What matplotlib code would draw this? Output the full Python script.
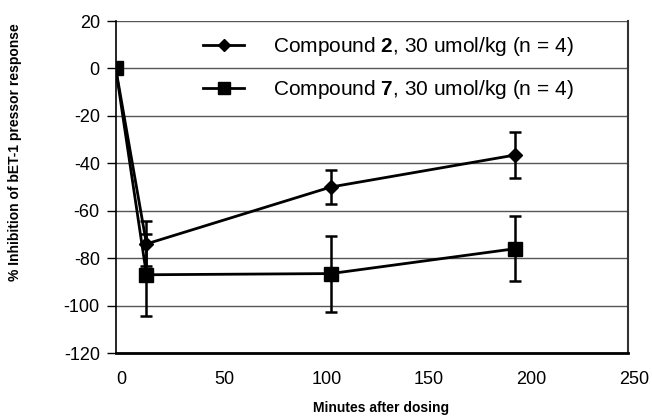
import matplotlib
matplotlib.use('Agg')
import matplotlib.pyplot as plt
import matplotlib.transforms as mtransforms
from matplotlib.lines import Line2D

plt.rcParams['font.family'] = ['Liberation Sans', 'DejaVu Sans']
plt.rcParams['mathtext.fontset'] = 'custom'
plt.rcParams['mathtext.rm'] = 'Liberation Sans'
plt.rcParams['mathtext.bf'] = 'Liberation Sans:bold'
plt.rcParams['axes.unicode_minus'] = False

# data
minutes = [0, 15, 105, 195]
cmpd2_mean = [0, -74, -50, -36.5]
cmpd2_err = [0, 9.5, 7, 9.5]
cmpd7_mean = [0, -87, -86.5, -76]
cmpd7_err = [0, 17.3, 16, 13.6]
labels = ['Compound $\\mathbf{2}$, 30 umol/kg (n = 4)',
          'Compound $\\mathbf{7}$, 30 umol/kg (n = 4)']
xticks = [0, 50, 100, 150, 200, 250]
yticks = [20, 0, -20, -40, -60, -80, -100, -120]

fig = plt.figure(figsize=(6.52, 4.16), dpi=100)
ax = fig.add_axes([0.1775, 0.1514, 0.7857, 0.7981])

ax.errorbar(minutes, cmpd2_mean, yerr=cmpd2_err, color='black', lw=2,
            marker='D', ms=7.5, capsize=4, capthick=1.8, elinewidth=1.8,
            zorder=3)
ax.errorbar(minutes, cmpd7_mean, yerr=cmpd7_err, color='black', lw=2,
            marker='s', ms=10, capsize=4, capthick=1.8, elinewidth=1.8,
            zorder=4)

ax.set_xlim(0, 250)
ax.set_ylim(-120, 20)
ax.set_xticks(xticks)
ax.set_yticks(yticks)
ax.yaxis.grid(True, color='#555555', lw=1)
ax.set_axisbelow(True)

ax.tick_params(axis='x', length=0, pad=13, labelsize=13)
ax.tick_params(axis='y', length=6.5, width=1, pad=5, labelsize=13)
# labels sit a bit right of their grid positions in the original
shift = mtransforms.ScaledTranslation(6 / 100, 0, fig.dpi_scale_trans)
for lab in ax.get_xticklabels():
    lab.set_transform(lab.get_transform() + shift)

ax.spines['top'].set_visible(False)
ax.spines['left'].set_linewidth(1.2)
ax.spines['bottom'].set_linewidth(2)
ax.spines['right'].set_linewidth(1.5)
ax.spines['right'].set_color('#333333')

handles = [Line2D([], [], color='black', lw=2, marker='D', ms=6),
           Line2D([], [], color='black', lw=2, marker='s', ms=9)]
ax.legend(handles, labels, loc='upper left', bbox_to_anchor=(0.17, 0.958),
          frameon=False, fontsize=15, handlelength=2.0, handletextpad=1.35,
          labelspacing=0.97, borderpad=0, borderaxespad=0)

fig.text(381 / 652, 1 - 408 / 416, 'Minutes after dosing', fontsize=10,
         fontweight='bold', ha='center', va='center')
fig.text(15 / 652, 1 - 152 / 416, '% Inhibition of bET-1 pressor response',
         fontsize=10, fontweight='bold', rotation=90, ha='center', va='center')

plt.savefig('out.png', dpi=100)
